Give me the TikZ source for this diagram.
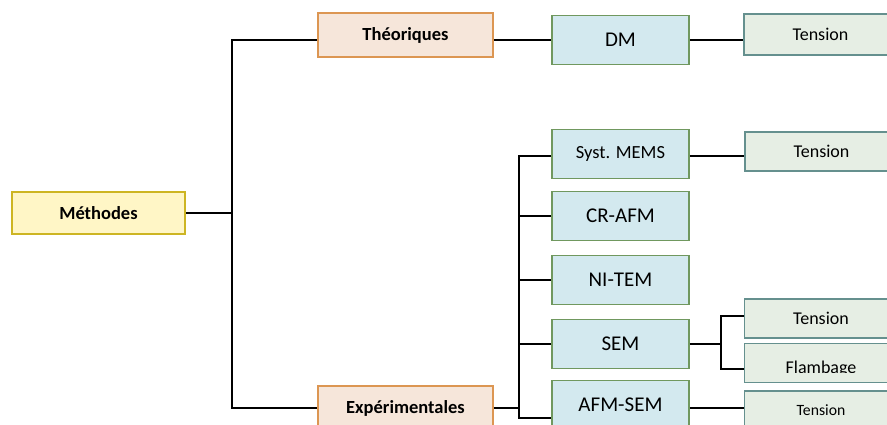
\documentclass[tikz,border=0pt]{standalone}
\usepackage{fontspec}
\setmainfont{Carlito}
\definecolor{rootfill}{HTML}{FFF6C6}
\definecolor{rootline}{HTML}{CDB523}
\definecolor{kindfill}{HTML}{F6E6DA}
\definecolor{kindline}{HTML}{DC9652}
\definecolor{techfill}{HTML}{D3E9EF}
\definecolor{techline}{HTML}{70985F}
\definecolor{testfill}{HTML}{E6EEE4}
\definecolor{testline}{HTML}{65908E}
\begin{document}
\begin{tikzpicture}[x=1pt, y=-1pt, line width=1.5pt]
    \useasboundingbox (0,0) rectangle (887,425);
    \clip (0,0) rectangle (887,425);
    \tikzset{box/.style={draw, line width=1.6pt, inner sep=0pt},
      root/.style={box, draw=rootline, fill=rootfill, minimum width=173pt, minimum height=42pt, font=\fontsize{18.5}{22}\selectfont\bfseries},
      kind/.style={box, draw=kindline, fill=kindfill, minimum width=175pt, minimum height=44pt, font=\fontsize{18.5}{22}\selectfont\bfseries},
      tech/.style={box, draw=techline, fill=techfill, minimum width=137pt, minimum height=49pt, font=\fontsize{21}{24}\selectfont},
      test/.style={box, draw=testline, fill=testfill, minimum width=153pt, minimum height=39pt, font=\fontsize{18}{21}\selectfont}}
    % boxes
    \node[root] (meth) at (98.5,213) {Méthodes};
    \node[kind] (theo) at (405.5,35) {Théoriques};
    \node[kind] (expe) at (405.5,408) {Expérimentales};
    \node[tech] (dm) at (620.5,40) {DM};
    \node[tech, font=\fontsize{18.5}{22}\selectfont] (syst) at (620.5,154) {Syst. MEMS};
    \node[tech] (cr) at (620.5,216) {CR-AFM};
    \node[tech] (ni) at (620.5,280) {NI-TEM};
    \node[tech] (sem) at (620.5,344) {SEM};
    \node[tech] (afm) at (620.5,405) {AFM-SEM};
    \node[test, minimum height=41pt] (tenA) at (820.5,34.5) {Tension};
    \node[test] (tenB) at (821.5,151.5) {Tension};
    \node[test] (tenC) at (821,318.5) {Tension};
    \node[test, path picture={
        \clip (path picture bounding box.north west) rectangle ([yshift=10pt]path picture bounding box.south east);
        \node[anchor=base] at ([yshift=-10.5pt]path picture bounding box.center) {Flambage};}] (flb) at (821,363) {}; %text cut short
    \node[test, font=\fontsize{15.7}{19}\selectfont] (tenD) at (821,410.5) {Tension};
    % forks
    \coordinate (fork1) at (232,213);
    \coordinate (fork2) at (519,408);
    \coordinate (fork3) at (721,344);
    % links
    \draw (meth.east) -- (fork1);
    \draw ([yshift=-5pt]theo.west) -| (fork1) |- (expe.west);
    \draw ([yshift=-5pt]theo.east) -- (dm.west);
    \draw (dm.east) -- (dm.east -| tenA.west);
    \draw (expe.east) -- (fork2);
    \draw ([yshift=-2pt]syst.west) -| (fork2) |- ([yshift=-13pt]afm.west);
    \foreach \n in {cr,ni,sem}
        \draw (\n.west) -- (\n.west -| fork2);
    \draw ([yshift=-2pt]syst.east) -- ([yshift=-2pt]syst.east -| tenB.west);
    \draw (sem.east) -- (fork3);
    \draw ([yshift=2.5pt]tenC.west) -| (fork3) |- ([yshift=-6pt]flb.west);
    \draw ([yshift=-3pt]afm.east) -- ([yshift=-3pt]afm.east -| tenD.west);
\end{tikzpicture}
\end{document}
